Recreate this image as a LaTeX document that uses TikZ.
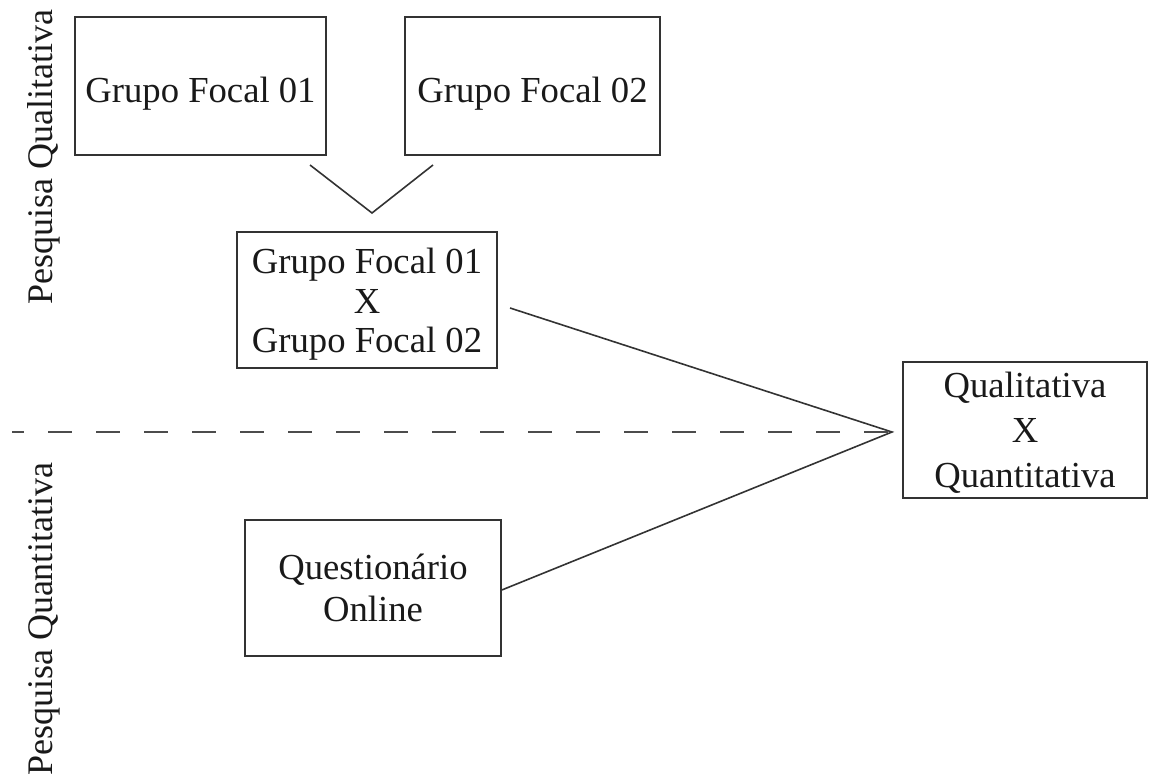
\documentclass[tikz,border=0pt]{standalone}
\usepackage{fontspec}
\setmainfont{Liberation Serif}
\newcommand\tallstrut[1]{\rule{0pt}{#1}}
\begin{document}
\begin{tikzpicture}[x=0.75pt,y=-0.75pt,
  ln/.style={draw=black!80,line width=1.2pt},
  boxnode/.style={ln,rectangle,inner sep=0pt,align=center,text=black!90},
  sidelabel/.style={rotate=90,anchor=base,font=\fontsize{27}{29}\selectfont,text=black!90}]
\useasboundingbox (0,0) rectangle (1160,781);
\node[boxnode,minimum width=251*0.75pt,minimum height=138*0.75pt,font=\fontsize{27.5}{29}\selectfont] (gf1) at (200.5,86) {\tallstrut{30.8pt}Grupo Focal 01};
\node[boxnode,minimum width=255*0.75pt,minimum height=138*0.75pt,font=\fontsize{27.5}{29}\selectfont] (gf2) at (532.5,86) {\tallstrut{30.8pt}Grupo Focal 02};
\node[boxnode,minimum width=260*0.75pt,minimum height=136*0.75pt,font=\fontsize{27.5}{29.5}\selectfont] (mid) at (367,300) {\tallstrut{25.8pt}Grupo Focal 01\\X\\Grupo Focal 02};
\node[boxnode,minimum width=244*0.75pt,minimum height=136*0.75pt,font=\fontsize{27.5}{34}\selectfont] (qq) at (1025,430) {\tallstrut{23.3pt}Qualitativa\\X\\Quantitativa};
\node[boxnode,minimum width=256*0.75pt,minimum height=136*0.75pt,font=\fontsize{27.5}{31.5}\selectfont] (qo) at (373,588) {Questionário\\Online};
\node[sidelabel] (lq) at (52.5,157.5) {Pesquisa Qualitativa};
\node[sidelabel] (lqt) at (52.5,619.5) {Pesquisa Quantitativa};
\coordinate (v1) at (310,165);
\coordinate (vtip) at (372,213);
\coordinate (v2) at (433,165);
\coordinate (apex) at (892,432);
\coordinate (dstart) at (12,432);
\coordinate (mfrom) at (510,308);
\coordinate (qfrom) at (qo.east |- 0,590);
\draw[ln] (v1) -- (vtip) -- (v2);
\draw[ln] (mfrom) -- (apex) -- (qfrom);
\draw[ln,draw=black!70,dash pattern=on 18pt off 18pt,dash phase=9pt] (dstart) -- (apex);
\end{tikzpicture}
\end{document}
